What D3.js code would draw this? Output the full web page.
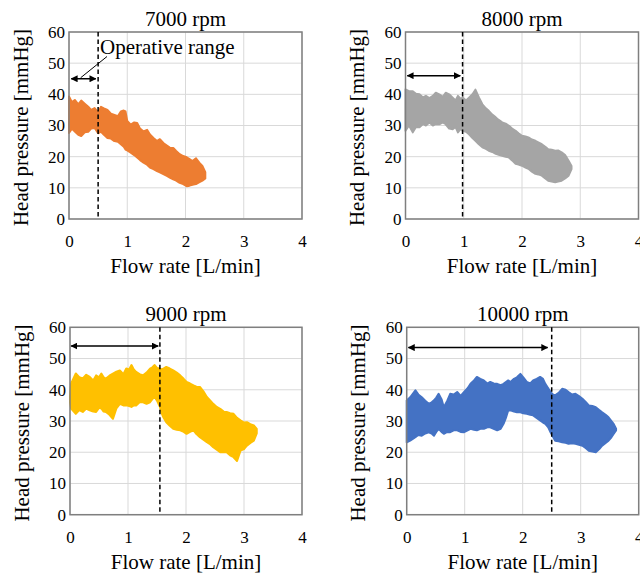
<!DOCTYPE html>
<html><head><meta charset="utf-8">
<script src="https://cdn.jsdelivr.net/npm/d3@7"></script>
<style>
html,body{margin:0;padding:0;background:#fff;}
svg{display:block;font-family:"Liberation Serif","Times New Roman",serif;}
</style></head>
<body>
<svg id="chart" width="640" height="576"></svg>
<script>
// ---- data ----
const speeds = ["7000 rpm", "8000 rpm", "9000 rpm", "10000 rpm"];
const colors = ["#ED7D31", "#A5A5A5", "#FFC000", "#4472C4"];
const xTicks = [0, 1, 2, 3, 4];
const yTicks = [0, 10, 20, 30, 40, 50, 60];

const flow7000  = [0, 0.05, 0.1, 0.16, 0.21, 0.27, 0.33, 0.38, 0.44, 0.5, 0.55, 0.6, 0.66, 0.72, 0.78, 0.84, 0.89, 0.94, 0.97, 1.0, 1.06, 1.12, 1.17, 1.22, 1.28, 1.34, 1.39, 1.45, 1.51, 1.56, 1.62, 1.68, 1.73, 1.79, 1.84, 1.9, 1.96, 2.02, 2.07, 2.12, 2.18, 2.24, 2.29, 2.34];
const upper7000 = [39.3, 37.5, 38.2, 36.8, 38.0, 37.0, 36.0, 35.0, 35.6, 34.2, 36.0, 35.5, 35.0, 33.8, 33.4, 33.0, 34.5, 34.8, 34.5, 31.5, 30.3, 31.0, 30.8, 29.0, 28.1, 28.6, 27.1, 26.0, 25.0, 25.6, 24.4, 23.6, 22.9, 22.8, 21.8, 20.8, 20.2, 19.8, 19.2, 18.6, 19.5, 18.0, 17.0, 15.0];
const lower7000 = [27.6, 29.0, 28.1, 27.0, 26.6, 27.8, 28.0, 29.0, 29.2, 27.5, 28.0, 27.0, 26.0, 25.8, 25.0, 24.8, 24.0, 23.2, 22.3, 22.0, 21.3, 20.5, 19.7, 18.9, 18.1, 17.4, 16.5, 16.0, 15.4, 15.0, 14.4, 13.8, 13.3, 12.7, 12.3, 11.6, 11.2, 10.5, 10.7, 11.0, 11.2, 11.8, 12.3, 13.0];

const flow8000  = [0, 0.06, 0.125, 0.18, 0.24, 0.3, 0.35, 0.41, 0.47, 0.52, 0.58, 0.64, 0.69, 0.75, 0.81, 0.86, 0.9, 0.95, 0.98, 1.04, 1.09, 1.15, 1.2, 1.26, 1.32, 1.38, 1.43, 1.49, 1.55, 1.6, 1.66, 1.72, 1.77, 1.83, 1.89, 1.94, 2.0, 2.06, 2.11, 2.17, 2.23, 2.28, 2.34, 2.4, 2.45, 2.51, 2.57, 2.62, 2.68, 2.74, 2.8, 2.85];
const upper8000 = [41.6, 41.0, 41.0, 40.2, 40.0, 39.0, 39.5, 38.8, 39.5, 40.5, 40.0, 39.2, 40.5, 40.0, 38.9, 38.0, 39.5, 38.5, 39.0, 38.0, 38.9, 40.0, 41.5, 39.0, 36.8, 35.5, 34.7, 33.5, 32.6, 31.8, 31.0, 30.6, 30.0, 29.0, 28.3, 27.5, 26.7, 26.5, 26.2, 25.5, 25.1, 24.6, 24.0, 23.2, 22.4, 22.2, 21.9, 22.0, 21.4, 20.5, 18.7, 17.0];
const lower8000 = [28.3, 30.0, 27.8, 29.5, 29.4, 30.5, 30.0, 31.0, 30.0, 30.5, 30.4, 31.0, 30.4, 29.0, 28.8, 29.5, 27.8, 29.0, 28.3, 28.0, 27.2, 26.0, 25.1, 24.0, 23.0, 22.5, 21.9, 21.5, 20.9, 20.6, 20.3, 20.0, 19.8, 18.8, 17.7, 17.5, 17.1, 16.5, 16.1, 15.2, 14.5, 14.3, 13.9, 13.0, 12.3, 12.0, 11.8, 12.0, 12.3, 13.0, 13.9, 16.0];

const flow9000  = [0, 0.02, 0.1, 0.16, 0.22, 0.28, 0.34, 0.4, 0.45, 0.5, 0.54, 0.58, 0.62, 0.68, 0.74, 0.8, 0.86, 0.92, 0.97, 1.02, 1.06, 1.1, 1.14, 1.2, 1.26, 1.32, 1.38, 1.42, 1.46, 1.5, 1.55, 1.58, 1.61, 1.66, 1.72, 1.78, 1.84, 1.9, 1.96, 2.01, 2.07, 2.13, 2.18, 2.24, 2.3, 2.36, 2.42, 2.47, 2.53, 2.59, 2.65, 2.7, 2.76, 2.82, 2.88, 2.94, 3.0, 3.05, 3.11, 3.17, 3.22];
const upper9000 = [38.0, 42.0, 45.2, 44.0, 43.6, 44.8, 44.1, 43.0, 44.6, 44.0, 45.2, 44.0, 43.6, 44.5, 45.2, 45.8, 46.2, 45.0, 46.8, 46.5, 47.9, 46.5, 45.7, 45.0, 44.6, 45.5, 46.8, 47.2, 47.9, 47.0, 46.8, 46.5, 46.8, 47.3, 46.8, 46.2, 45.5, 44.6, 43.5, 42.5, 42.0, 41.4, 41.0, 40.9, 39.5, 37.7, 36.5, 35.5, 34.5, 33.9, 33.0, 32.9, 32.5, 32.3, 31.0, 30.2, 29.5, 29.6, 29.0, 28.6, 27.5];
const lower9000 = [36.0, 34.0, 32.3, 33.5, 32.9, 34.0, 33.4, 33.0, 32.9, 34.2, 34.0, 33.0, 32.9, 32.0, 30.7, 34.0, 35.5, 35.0, 35.0, 34.8, 34.5, 35.0, 35.0, 36.0, 36.0, 35.5, 36.0, 37.0, 37.7, 36.5, 34.5, 32.5, 31.2, 29.6, 28.5, 27.5, 27.2, 27.0, 26.5, 25.9, 26.5, 27.0, 25.8, 24.8, 24.0, 23.2, 22.5, 21.6, 20.8, 20.0, 20.0, 20.0, 19.0, 18.4, 17.2, 20.5, 21.0, 22.1, 23.0, 23.7, 26.0];

const flow10000  = [0, 0.06, 0.15, 0.2, 0.26, 0.32, 0.38, 0.43, 0.47, 0.51, 0.55, 0.6, 0.64, 0.7, 0.75, 0.81, 0.87, 0.93, 0.99, 1.05, 1.1, 1.16, 1.21, 1.27, 1.33, 1.39, 1.44, 1.5, 1.56, 1.62, 1.67, 1.71, 1.75, 1.79, 1.85, 1.9, 1.96, 2.01, 2.07, 2.13, 2.18, 2.24, 2.3, 2.35, 2.39, 2.44, 2.48, 2.52, 2.56, 2.62, 2.68, 2.74, 2.79, 2.85, 2.91, 2.97, 3.03, 3.09, 3.14, 3.2, 3.26, 3.32, 3.37, 3.43, 3.48, 3.53, 3.57, 3.61];
const upper10000 = [36.6, 37.6, 39.8, 38.5, 37.6, 36.5, 35.5, 36.0, 36.6, 37.5, 38.7, 37.0, 34.4, 36.5, 38.7, 38.5, 39.3, 38.0, 39.3, 40.5, 41.9, 43.0, 44.1, 43.5, 43.0, 42.0, 42.5, 42.0, 41.9, 41.5, 41.9, 42.5, 43.0, 42.5, 43.5, 44.0, 45.1, 44.0, 42.5, 42.0, 43.0, 43.5, 44.1, 43.5, 41.9, 40.5, 39.3, 38.5, 38.2, 39.0, 40.3, 40.0, 39.3, 38.5, 38.7, 38.0, 37.1, 36.0, 35.0, 34.8, 34.4, 33.5, 32.8, 32.0, 31.2, 30.0, 29.0, 27.5];
const lower10000 = [23.2, 23.7, 24.8, 25.5, 25.3, 26.0, 26.4, 26.0, 25.3, 26.5, 27.5, 26.5, 25.9, 26.5, 26.4, 27.0, 27.0, 26.5, 26.4, 27.0, 27.5, 27.2, 27.0, 27.5, 27.5, 28.0, 28.0, 27.5, 27.0, 27.5, 29.1, 31.0, 33.4, 33.4, 33.0, 32.8, 32.8, 32.5, 32.3, 32.0, 31.8, 31.0, 30.2, 29.5, 29.1, 28.0, 26.4, 25.0, 23.7, 23.5, 23.2, 23.0, 22.7, 22.9, 22.7, 22.4, 22.1, 21.3, 20.5, 20.2, 20.0, 21.0, 22.1, 23.0, 23.7, 24.8, 25.9, 27.0];

const rangeLimit = [0.5, 0.98, 1.55, 2.5];     // dashed line: end of operative range
const arrowY     = [45, 46, 54, 53.5];
const arrowFrom  = [0.04, 0.03, 0.02, 0.03];
const arrowTo    = [0.46, 0.94, 1.52, 2.43];

const seriesFlow  = [flow7000, flow8000, flow9000, flow10000];
const seriesUpper = [upper7000, upper8000, upper9000, upper10000];
const seriesLower = [lower7000, lower8000, lower9000, lower10000];

// ---- layout ----
const panels = [
  {x0: 69,    x1: 302,   y0: 32,    y1: 219},
  {x0: 405.5, x1: 638.5, y0: 32,    y1: 219},
  {x0: 70,    x1: 302,   y0: 327.3, y1: 514.7},
  {x0: 406.7, x1: 638.7, y0: 327.3, y1: 514.7}
];

const svg = d3.select("#chart");
const defs = svg.append("defs");
defs.append("marker").attr("id", "ah").attr("viewBox", "0 0 10 10")
  .attr("refX", 9).attr("refY", 5).attr("markerWidth", 7).attr("markerHeight", 7)
  .attr("markerUnits", "userSpaceOnUse").attr("orient", "auto-start-reverse")
  .append("path").attr("d", "M0,0 L10,5 L0,10 z").attr("fill", "#000");

panels.forEach((p, i) => {
  const x = d3.scaleLinear().domain([0, 4]).range([p.x0, p.x1]);
  const y = d3.scaleLinear().domain([0, 60]).range([p.y1, p.y0]);
  const g = svg.append("g");

  // grid
  g.selectAll(".hg").data(yTicks).join("line")
    .attr("x1", p.x0).attr("x2", p.x1).attr("y1", d => y(d)).attr("y2", d => y(d))
    .attr("stroke", "#d9d9d9").attr("stroke-width", 1);
  g.selectAll(".vg").data(xTicks).join("line")
    .attr("y1", p.y0).attr("y2", p.y1).attr("x1", d => x(d)).attr("x2", d => x(d))
    .attr("stroke", "#d9d9d9").attr("stroke-width", 1);

  // data band
  const pts = seriesFlow[i].map((f, k) => ({f, u: seriesUpper[i][k], l: seriesLower[i][k]}));
  const area = d3.area().x(d => x(d.f)).y0(d => y(d.l)).y1(d => y(d.u));
  g.append("path").datum(pts).attr("d", area)
    .attr("fill", colors[i]).attr("stroke", colors[i]).attr("stroke-width", 2)
    .attr("stroke-linejoin", "round");

  // frame
  g.append("rect").attr("x", p.x0).attr("y", p.y0)
    .attr("width", p.x1 - p.x0).attr("height", p.y1 - p.y0)
    .attr("fill", "none").attr("stroke", "#7f7f7f").attr("stroke-width", 1.5);

  // axes
  const xa = g.append("g").attr("transform", `translate(0,${p.y1})`)
    .call(d3.axisBottom(x).tickValues(xTicks).tickSize(0).tickPadding(16).tickFormat(d3.format("d")));
  const ya = g.append("g").attr("transform", `translate(${p.x0},0)`)
    .call(d3.axisLeft(y).tickValues(yTicks).tickSize(0).tickPadding(4).tickFormat(d3.format("d")));
  [xa, ya].forEach(a => {
    a.select(".domain").remove();
    a.selectAll("text").attr("font-family", "Liberation Serif").attr("font-size", 17).attr("fill", "#000");
  });

  // dashed line
  g.append("line").attr("x1", x(rangeLimit[i])).attr("x2", x(rangeLimit[i]))
    .attr("y1", p.y0).attr("y2", p.y1)
    .attr("stroke", "#000").attr("stroke-width", 1.5).attr("stroke-dasharray", "4.5,3");

  // double arrow
  g.append("line").attr("x1", x(arrowFrom[i])).attr("x2", x(arrowTo[i]))
    .attr("y1", y(arrowY[i])).attr("y2", y(arrowY[i]))
    .attr("stroke", "#000").attr("stroke-width", 1.5)
    .attr("marker-start", "url(#ah)").attr("marker-end", "url(#ah)");

  // title
  g.append("text").attr("x", (p.x0 + p.x1) / 2).attr("y", p.y0 - 6)
    .attr("text-anchor", "middle").attr("font-size", 21).text(speeds[i]);

  // axis titles
  g.append("text").attr("x", (p.x0 + p.x1) / 2).attr("y", p.y1 + 54)
    .attr("text-anchor", "middle").attr("font-size", 21).text("Flow rate [L/min]");
  g.append("text")
    .attr("transform", `translate(${p.x0 - 41.5},${(p.y0 + p.y1) / 2 + 2}) rotate(-90)`)
    .attr("text-anchor", "middle").attr("font-size", 21).text("Head pressure [mmHg]");
});

// annotation in first panel
{
  const p = panels[0];
  const x = d3.scaleLinear().domain([0, 4]).range([p.x0, p.x1]);
  const y = d3.scaleLinear().domain([0, 60]).range([p.y1, p.y0]);
  svg.append("line").attr("x1", 107).attr("y1", 56.5).attr("x2", x(0.2)).attr("y2", y(arrowY[0]) - 1)
    .attr("stroke", "#000").attr("stroke-width", 1);
  svg.append("text").attr("x", 100).attr("y", 54).attr("font-size", 21).text("Operative range");
}
</script>
</body></html>
